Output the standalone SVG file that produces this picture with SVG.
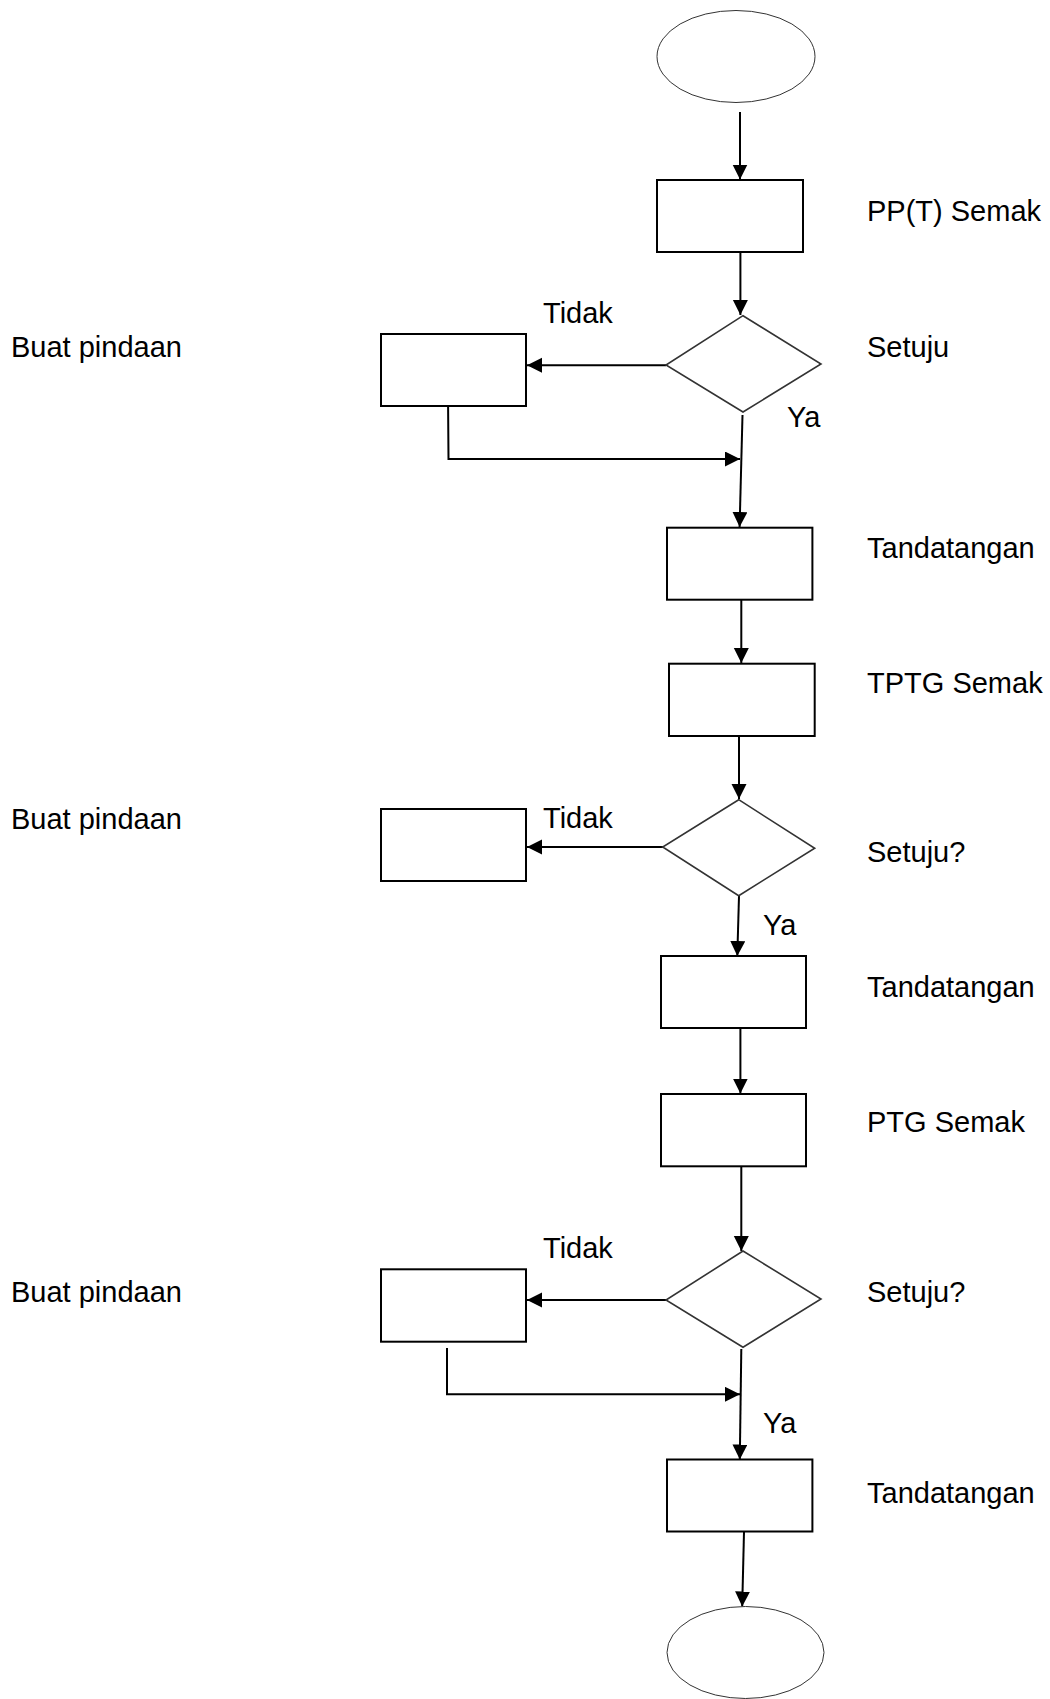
<svg xmlns="http://www.w3.org/2000/svg" width="1050" height="1699" viewBox="0 0 1050 1699">
<style>
.box{fill:#fff;stroke:#000;stroke-width:2}
.dia{fill:#fff;stroke:#333;stroke-width:1.6}
.term{fill:#fff;stroke:#333;stroke-width:1}
.ln{fill:none;stroke:#000;stroke-width:2}
.arr{marker-end:url(#ah)}
text{font-family:"Liberation Sans",Arial,sans-serif;fill:#000}
.r{font-size:29px}
.l{font-size:29px}
</style>
<defs>
<marker id="ah" markerUnits="userSpaceOnUse" markerWidth="16" markerHeight="16" viewBox="0 0 16 16" refX="15" refY="7.5" orient="auto">
<path d="M0,0 L15,7.5 L0,15 Z" fill="#000"/>
</marker>
</defs>
<g id="connectors">
<line class="ln arr" x1="740" y1="112" x2="740" y2="179.5"/>
<line class="ln arr" x1="740.4" y1="252" x2="740.4" y2="315"/>
<line class="ln arr" x1="666" y1="365.3" x2="527" y2="365.3"/>
<polyline class="ln arr" points="448,394 448.5,459 740,459"/>
<line class="ln arr" x1="742.5" y1="415" x2="739.6" y2="527"/>
<line class="ln arr" x1="741.3" y1="600" x2="741.3" y2="663"/>
<line class="ln arr" x1="739" y1="736" x2="739" y2="799"/>
<line class="ln arr" x1="663" y1="847" x2="527" y2="847"/>
<line class="ln arr" x1="739" y1="896" x2="737.3" y2="956"/>
<line class="ln arr" x1="740.4" y1="1028" x2="740.4" y2="1093.5"/>
<line class="ln arr" x1="741.3" y1="1166" x2="741.3" y2="1251"/>
<line class="ln arr" x1="666" y1="1300" x2="527" y2="1300"/>
<polyline class="ln arr" points="447,1348 447,1394.3 740,1394.3"/>
<line class="ln arr" x1="741.3" y1="1349" x2="739.8" y2="1459.5"/>
<line class="ln arr" x1="744" y1="1532" x2="742.2" y2="1606.5"/>
</g>
<g id="start"><ellipse class="term" cx="736" cy="56.5" rx="79" ry="46"/></g>
<g id="pp-semak"><rect class="box" x="657" y="180" width="146" height="72"/><text class="r" x="867" y="221">PP(T) Semak</text></g>
<g id="setuju1"><polygon class="dia" points="743,315.7 821,364 743,412 666,365"/><text class="r" x="867" y="357">Setuju</text><text class="r" x="543" y="322.5">Tidak</text><text class="r" x="787" y="426.5">Ya</text></g>
<g id="pindaan1"><rect class="box" x="381" y="334" width="145" height="72"/><text class="l" x="11" y="357">Buat pindaan</text></g>
<g id="tandatangan1"><rect class="box" x="667" y="527.7" width="145.4" height="72"/><text class="r" x="867" y="558">Tandatangan</text></g>
<g id="tptg-semak"><rect class="box" x="669" y="663.7" width="145.7" height="72.3"/><text class="r" x="867" y="693.3">TPTG Semak</text></g>
<g id="setuju2"><polygon class="dia" points="738.7,799.7 814.7,848.3 738.7,895.7 662.7,847"/><text class="r" x="867" y="861.7">Setuju?</text><text class="r" x="543" y="828.3">Tidak</text><text class="r" x="763" y="935">Ya</text></g>
<g id="pindaan2"><rect class="box" x="381" y="809" width="145" height="72"/><text class="l" x="11" y="829">Buat pindaan</text></g>
<g id="tandatangan2"><rect class="box" x="661" y="956" width="145" height="72"/><text class="r" x="867" y="997.3">Tandatangan</text></g>
<g id="ptg-semak"><rect class="box" x="661" y="1094" width="145" height="72.3"/><text class="r" x="867" y="1131.7">PTG Semak</text></g>
<g id="setuju3"><polygon class="dia" points="743,1251 821,1299 743,1347.3 666,1300"/><text class="r" x="867" y="1301.7">Setuju?</text><text class="r" x="543" y="1258.3">Tidak</text><text class="r" x="763" y="1432.7">Ya</text></g>
<g id="pindaan3"><rect class="box" x="381" y="1269.3" width="145" height="72.4"/><text class="l" x="11" y="1302">Buat pindaan</text></g>
<g id="tandatangan3"><rect class="box" x="667" y="1459.5" width="145.4" height="72"/><text class="r" x="867" y="1503.3">Tandatangan</text></g>
<g id="end"><ellipse class="term" cx="745.5" cy="1652.5" rx="78.5" ry="46"/></g>
</svg>
